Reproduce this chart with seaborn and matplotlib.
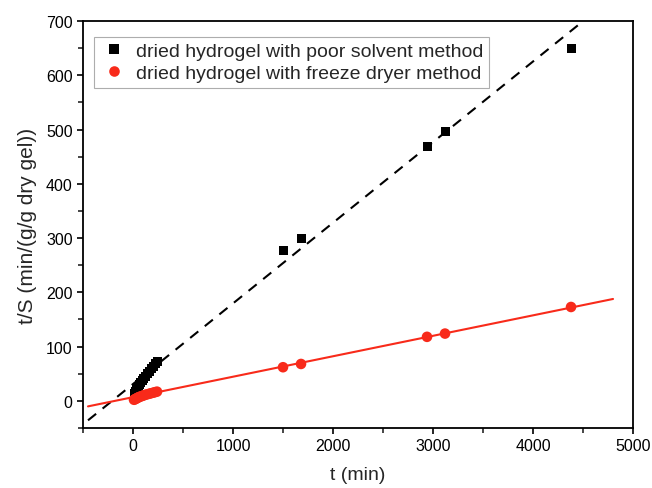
"""Pseudo-second-order swelling kinetics: t/S against t for two drying methods."""

import numpy as np
import pandas as pd
import seaborn as sns
import matplotlib.pyplot as plt
from matplotlib.ticker import MultipleLocator

# time (min) and t/S (min/(g/g dry gel))
t_min = [10, 20, 30, 40, 50, 60, 75, 90, 105, 120, 140, 160, 180, 200, 220, 240,
         1500, 1680, 2940, 3120, 4380]
ts_poor = [14, 17, 21, 24, 27, 30, 34, 38, 42, 45, 50, 55, 60, 64, 68, 72,
           277, 299, 468, 497, 650]
ts_freeze = [2, 3, 4, 5, 6, 7, 8, 9, 10, 11, 12, 13, 14, 15, 16, 17,
             62, 68, 118, 124, 173]

# linear fits as drawn in the figure (intercept, slope) and their x extent
fit_poor = (31.0, 0.1486)
fit_freeze = (6.8, 0.0377)
fit_range = [-450, 4800]

lab_poor = "dried hydrogel with poor solvent method"
lab_freeze = "dried hydrogel with freeze dryer method"
RED = "#F82A1A"

sns.set_theme(style="ticks")
plt.rcParams["font.family"] = ["Liberation Sans", "DejaVu Sans"]

fig = plt.figure(figsize=(6.52, 4.89), dpi=100)
ax = fig.add_axes([0.1273, 0.1227, 0.8436, 0.8323])

fx = np.array(fit_range, dtype=float)
lines = pd.DataFrame({
    "t": np.concatenate([fx, fx]),
    "ts": np.concatenate([fit_poor[0] + fit_poor[1] * fx,
                          fit_freeze[0] + fit_freeze[1] * fx]),
    "fit": ["poor"] * 2 + ["freeze"] * 2,
})
sns.lineplot(data=lines[lines.fit == "poor"], x="t", y="ts", color="black",
             lw=1.5, ax=ax, legend=False, linestyle=(0, (5, 4)))
sns.lineplot(data=lines[lines.fit == "freeze"], x="t", y="ts", color=RED,
             lw=1.5, ax=ax, legend=False)

pts = pd.DataFrame({
    "t": t_min + t_min,
    "ts": ts_poor + ts_freeze,
    "series": [lab_poor] * len(t_min) + [lab_freeze] * len(t_min),
})
sns.scatterplot(data=pts, x="t", y="ts", hue="series", style="series",
                size="series",
                palette={lab_poor: "black", lab_freeze: RED},
                markers={lab_poor: "s", lab_freeze: "o"},
                sizes={lab_poor: 42, lab_freeze: 58},
                linewidth=0, ax=ax, zorder=3)

ax.set_xlim(-500, 5000)
ax.set_ylim(-50, 700)
ax.xaxis.set_major_locator(MultipleLocator(1000))
ax.xaxis.set_minor_locator(MultipleLocator(500))
ax.yaxis.set_major_locator(MultipleLocator(100))
ax.yaxis.set_minor_locator(MultipleLocator(50))
ax.tick_params(which="major", direction="out", length=4.5, width=1.2, pad=3,
               labelsize=11.5, colors="black", top=False, right=False)
ax.tick_params(which="minor", direction="out", length=3.5, width=1.2,
               top=False, right=False)
for spine in ax.spines.values():
    spine.set_visible(True)
    spine.set_linewidth(1.3)
    spine.set_color("black")

ax.set_xlabel("t (min)", fontsize=14, labelpad=9)
ax.set_ylabel("t/S (min/(g/g dry gel))", fontsize=15, labelpad=6)

leg = ax.legend(loc="upper left", bbox_to_anchor=(0.003, 0.985), fontsize=14,
                frameon=True, fancybox=False, handletextpad=0.45,
                borderpad=0.3, labelspacing=0.2, markerscale=1.0,
                handlelength=1.4)
leg.get_frame().set_edgecolor("#999999")
leg.get_frame().set_linewidth(0.8)

fig.savefig("out.png", dpi=100)
